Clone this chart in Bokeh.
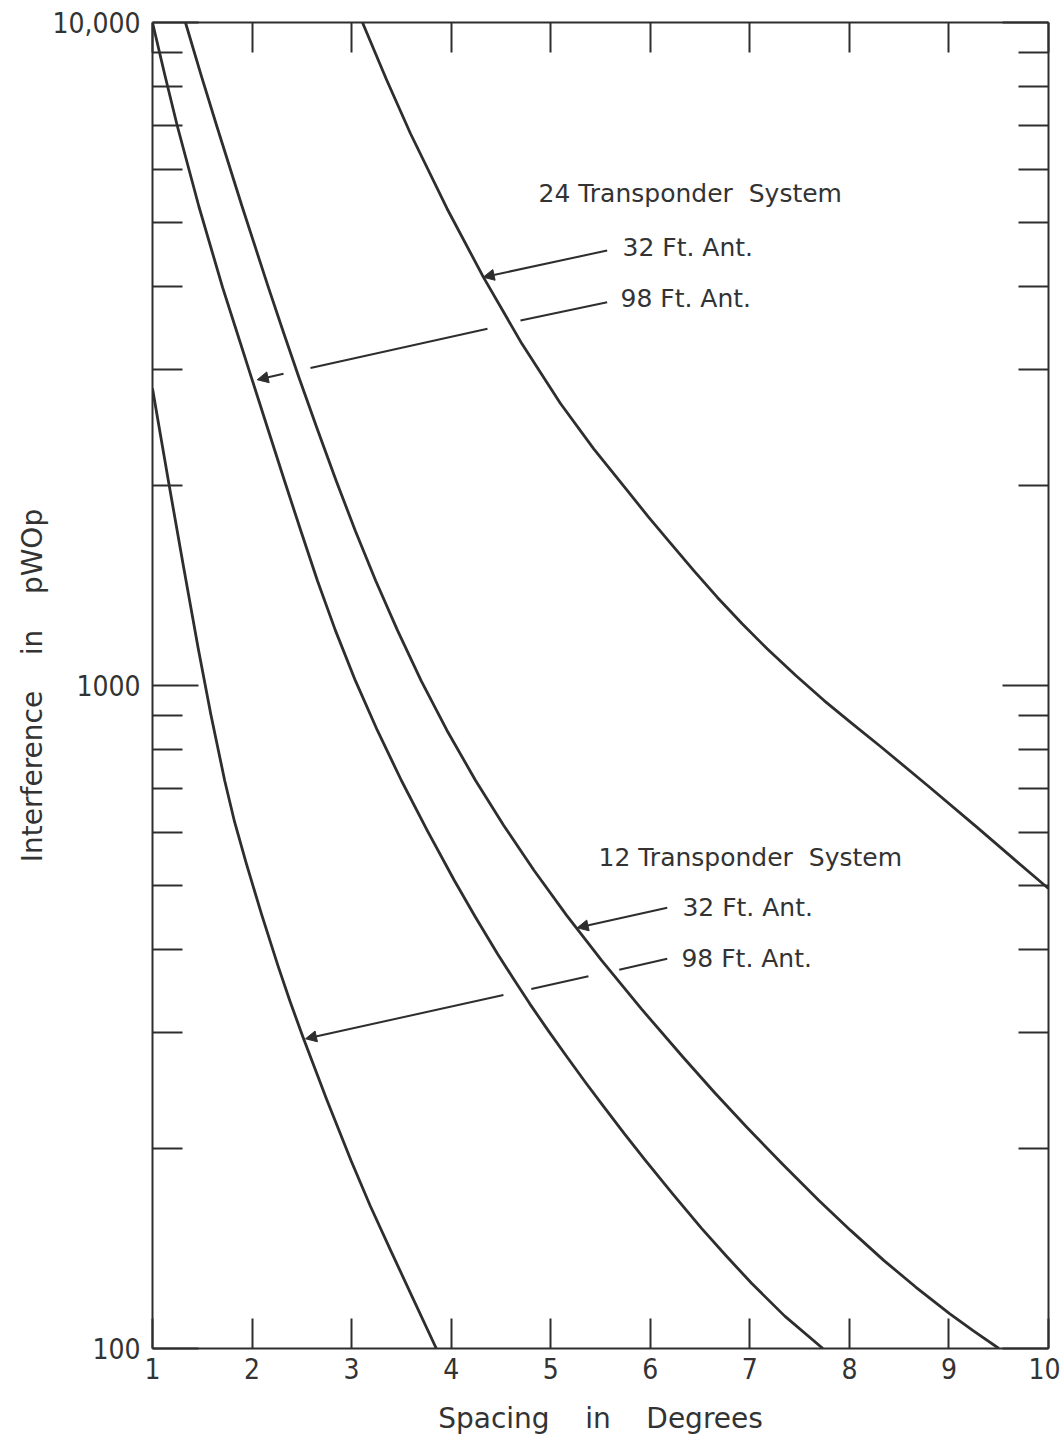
from bokeh.plotting import figure
from bokeh.models import (FixedTicker, LinearAxis, LogAxis, Range1d, Label, Arrow,
                          NormalHead, LogScale)
from bokeh.embed import file_html
from bokeh.resources import INLINE

# ---------------- data ----------------
# 24 Transponder System, 98 Ft. antenna
t24_a98_x = [1.0, 1.1215, 1.248, 1.466, 1.704, 1.849, 1.993, 2.159, 2.325, 2.489, 2.656, 2.837,
             3.038, 3.259, 3.500, 3.759, 4.032, 4.243, 4.465, 4.624, 4.790, 4.975, 5.166, 5.350,
             5.538, 5.743, 5.953, 6.227, 6.511, 6.759, 7.020, 7.351, 7.734]
t24_a98_y = [10000, 8363, 6993, 5278, 3985, 3408, 2915, 2437, 2038, 1713, 1440, 1211,
             1017, 855.4, 719, 604.4, 508, 447.6, 394, 361.5, 331, 301.6, 275, 251.9,
             231, 210.6, 192, 171, 152, 138.1, 125.3, 111.9, 100]

# 12 Transponder System, 32 Ft. antenna
t12_a32_x = [1.331, 1.486, 1.644, 1.900, 2.164, 2.316, 2.471, 2.655, 2.844, 3.036, 3.241, 3.461,
             3.698, 3.958, 4.245, 4.528, 4.833, 5.160, 5.511, 5.911, 6.330, 6.645, 6.972, 7.327,
             7.694, 8.012, 8.348, 8.666, 9.006, 9.246, 9.502]
t12_a32_y = [10000, 8350, 6993, 5278, 3985, 3408, 2915, 2437, 2038, 1713, 1440, 1211,
             1017, 855.4, 719, 614.9, 526, 450.0, 385, 325.2, 275, 243.3, 215.4, 189.8,
             167.2, 150.7, 135.7, 123.8, 112.9, 106.3, 100]

# 24 Transponder System, 32 Ft. antenna
t24_a32_x = [3.109, 3.350, 3.591, 3.958, 4.325, 4.711, 5.098, 5.432, 5.768, 5.985, 6.205, 6.437,
             6.672, 6.923, 7.174, 7.459, 7.746, 8.034, 8.322, 8.803, 9.283, 9.639, 10.0]
t24_a32_y = [10000, 8203, 6801, 5242, 4126, 3276, 2663, 2275, 1969, 1793, 1638, 1490,
             1359, 1239, 1136, 1036, 949, 874.7, 807, 703, 611, 549.5, 494]

# 12 Transponder System, 98 Ft. antenna
t12_a98_x = [1.0, 1.0793, 1.159, 1.3063, 1.457, 1.5846, 1.725, 1.8246, 1.942, 2.0958, 2.260,
             2.382, 2.513, 2.7477, 2.995, 3.1856, 3.393, 3.6205, 3.851]
t12_a98_y = [2805, 2391, 2038, 1526, 1142, 906.3, 719, 622.5, 539, 451.5, 378,
             333.7, 294.5, 237.8, 192, 164.3, 140.5, 118.6, 100]

x_ticks = [1, 2, 3, 4, 5, 6, 7, 8, 9, 10]
x_tick_labels = ["1", "2", "3", "4", "5", "6", "7", "8", "9", "10"]
y_ticks = [100, 1000, 10000]
y_tick_labels = ["100", "1000", "10,000"]
y_minor_ticks = [200, 300, 400, 500, 600, 700, 800, 900,
                 2000, 3000, 4000, 5000, 6000, 7000, 8000, 9000]

# annotation texts and their anchor points (data coords)
note_texts = ["24 Transponder \u00a0System", "32 Ft. Ant.", "98 Ft. Ant.",
              "12 Transponder \u00a0System", "32 Ft. Ant.", "98 Ft. Ant."]
note_x = [4.877, 5.721, 5.701, 5.480, 6.323, 6.313]
note_y = [5523, 4578, 3834, 550.4, 462.7, 387.5]

# pointer arrows: (x pieces, y pieces); last piece carries the arrow head
arrow_24_32 = ([5.567, 4.322], [4530, 4129])
arrow_24_98 = ([5.567, 4.696, 4.365, 2.587, 2.316, 2.052], [3785, 3553, 3453, 3013, 2952, 2892])
arrow_12_32 = ([6.170, 5.266], [462.2, 431.0])
arrow_12_98 = ([6.170, 5.688, 5.379, 4.805, 4.525, 2.537], [387.0, 372.5, 364.3, 348.6, 341.3, 293.2])

INK = "#2e2e2e"
TXT = "#333333"
NUM_FONT = "DejaVu Sans Condensed"
LBL_FONT = "DejaVu Sans"

p = figure(width=1060, height=1446,
           x_range=Range1d(1, 10), y_range=Range1d(100, 10000),
           y_axis_type="log", x_axis_location=None, y_axis_location=None,
           output_backend="svg", toolbar_location=None,
           min_border_left=152, min_border_right=12, min_border_top=22, min_border_bottom=98)
p.y_scale = LogScale()
p.outline_line_color = None
p.background_fill_color = "white"
p.border_fill_color = "white"
for g in p.grid:
    g.visible = False

yt = lambda: FixedTicker(ticks=y_ticks, minor_ticks=y_minor_ticks)
xt = lambda: FixedTicker(ticks=x_ticks)

def style(ax, major_in, minor_in):
    ax.axis_line_color = INK
    ax.axis_line_width = 2
    ax.major_tick_line_color = INK
    ax.major_tick_line_width = 2
    ax.minor_tick_line_color = INK
    ax.minor_tick_line_width = 2
    ax.major_tick_in = major_in
    ax.major_tick_out = 0
    ax.minor_tick_in = minor_in
    ax.minor_tick_out = 0

left = LogAxis(ticker=yt(), major_label_overrides=dict(zip(y_ticks, y_tick_labels)))
style(left, 46, 30)
left.major_label_text_font = NUM_FONT
left.major_label_text_font_size = "28px"
left.major_label_text_color = TXT
left.major_label_standoff = 12
left.axis_label = "Interference \u00a0 \u00a0in \u00a0 \u00a0pWOp"
left.axis_label_text_font = LBL_FONT
left.axis_label_text_font_style = "normal"
left.axis_label_text_font_size = "28px"
left.axis_label_text_color = TXT
left.axis_label_standoff = 0
p.add_layout(left, "left")

right = LogAxis(ticker=yt(), major_label_overrides={t: "" for t in y_ticks})
style(right, 46, 30)
right.major_label_text_font_size = "0px"
right.major_label_standoff = 0
p.add_layout(right, "right")

bottom = LinearAxis(ticker=xt(), major_label_overrides=dict(zip(x_ticks, x_tick_labels)))
style(bottom, 30, 0)
bottom.major_label_text_font = NUM_FONT
bottom.major_label_text_font_size = "28px"
bottom.major_label_text_color = TXT
bottom.major_label_standoff = 9
bottom.axis_label = "Spacing \u00a0 \u00a0in \u00a0 \u00a0Degrees"
bottom.axis_label_text_font = LBL_FONT
bottom.axis_label_text_font_style = "normal"
bottom.axis_label_text_font_size = "28px"
bottom.axis_label_text_color = TXT
bottom.axis_label_standoff = 20
p.add_layout(bottom, "below")

top = LinearAxis(ticker=xt(), major_label_overrides={t: "" for t in x_ticks})
style(top, 30, 0)
top.major_label_text_font_size = "0px"
top.major_label_standoff = 0
p.add_layout(top, "above")

for xs, ys in [(t24_a98_x, t24_a98_y), (t12_a32_x, t12_a32_y),
               (t24_a32_x, t24_a32_y), (t12_a98_x, t12_a98_y)]:
    p.line(xs, ys, line_color=INK, line_width=2.8, line_join="round")

for t, x, y in zip(note_texts, note_x, note_y):
    p.add_layout(Label(x=x, y=y, text=t, text_font=LBL_FONT, text_font_size="25px",
                       text_color=TXT, text_baseline="middle", text_align="left"))

for xs, ys in [arrow_24_32, arrow_24_98, arrow_12_32, arrow_12_98]:
    n = len(xs)
    for i in range(0, n - 1, 2):
        last = (i + 2 >= n)
        head = NormalHead(size=11, fill_color=INK, line_color=INK, line_width=1) if last else None
        p.add_layout(Arrow(x_start=xs[i], y_start=ys[i], x_end=xs[i + 1], y_end=ys[i + 1],
                           end=head, line_color=INK, line_width=2))

open("out.html", "w").write(file_html(p, INLINE))
